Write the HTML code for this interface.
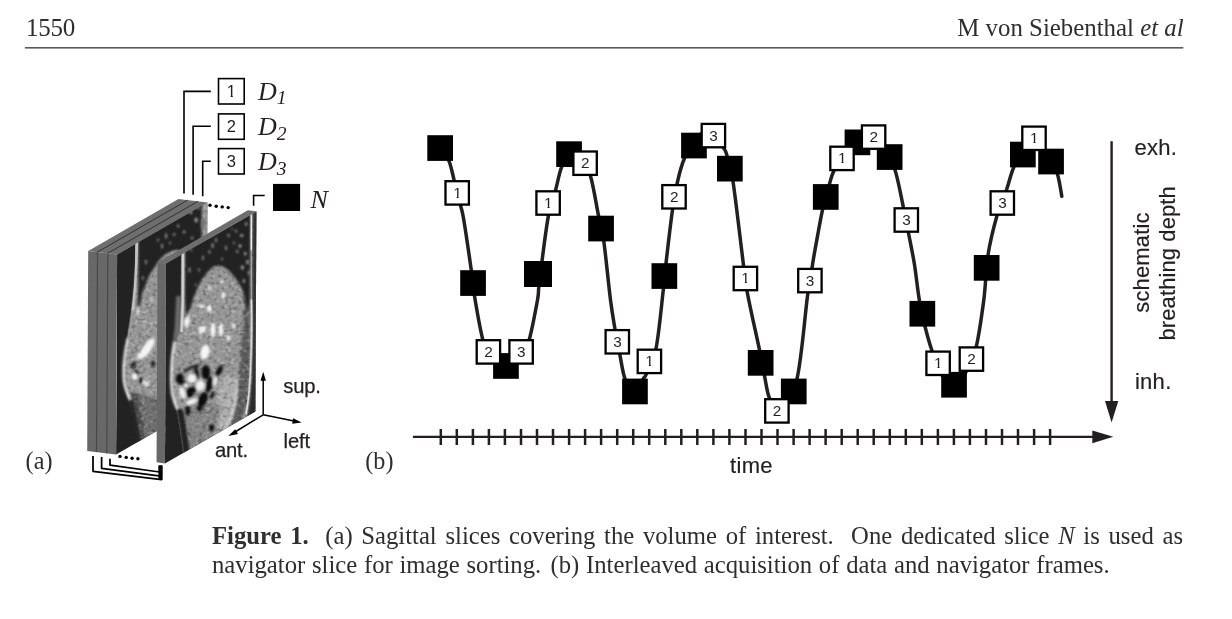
<!DOCTYPE html>
<html lang="en">
<head>
<meta charset="utf-8">
<title>Figure 1</title>
<style>
html,body{margin:0;padding:0;background:#fff;}
body{width:1232px;height:619px;position:relative;overflow:hidden;font-family:"Liberation Serif",serif;color:#2e2e2e;}
.hl{position:absolute;left:26.1px;top:12.7px;font-size:25px;line-height:30px;white-space:nowrap;letter-spacing:-0.3px;}
.hr{position:absolute;right:48.4px;top:12.7px;font-size:24.85px;line-height:30px;white-space:nowrap;text-align:right;}
.rule{position:absolute;left:25px;top:47.1px;width:1158.3px;height:1.35px;background:#505050;}
.cap{position:absolute;left:212px;top:520.6px;width:971px;font-size:24.7px;line-height:29.6px;text-align:justify;}
.cap .l1{display:block;text-align:justify;text-align-last:justify;white-space:nowrap;}
.cap .l2{display:block;white-space:nowrap;word-spacing:0.55px;}
.sp{display:inline-block;height:1px;}
svg{position:absolute;left:0;top:0;}
svg text{font-family:"Liberation Sans",sans-serif;fill:#231f20;}
.dg{font-size:15.3px;text-anchor:middle;}
.dga{font-size:16.5px;}
.sa{font-size:20.2px;letter-spacing:-0.15px;stroke:#231f20;stroke-width:0.25px;}
.sb{font-size:22px;letter-spacing:0.3px;stroke:#231f20;stroke-width:0.2px;}
.it{font-family:"Liberation Serif",serif;font-style:italic;font-size:26px;}
.lab{font-family:"Liberation Serif",serif;font-size:24.2px;fill:#2e2e2e;}
</style>
</head>
<body>
<div class="hl">1550</div>
<div class="hr">M von Siebenthal <i>et al</i></div>
<svg width="1232" height="619" viewBox="0 0 1232 619">
<rect x="24.9" y="47" width="1158.4" height="1.6" fill="#595959"/>
<defs>
<filter id="nz" x="0" y="0" width="100%" height="100%" color-interpolation-filters="sRGB">
<feTurbulence type="fractalNoise" baseFrequency="0.28" numOctaves="2" seed="7" result="t"/>
<feColorMatrix in="t" type="matrix" values="0 0 0 0 1  0 0 0 0 1  0 0 0 0 1  0.9 0 0 0 -0.45" result="wn"/>
<feColorMatrix in="t" type="matrix" values="0 0 0 0 0  0 0 0 0 0  0 0 0 0 0  0 0.9 0 0 -0.45" result="kn"/>
<feComposite in="wn" in2="SourceGraphic" operator="atop" result="s1"/>
<feComposite in="kn" in2="s1" operator="atop"/>
</filter>
<filter id="bl" x="-20%" y="-20%" width="140%" height="140%"><feGaussianBlur stdDeviation="0.9"/></filter>
<filter id="bl0" x="-20%" y="-20%" width="140%" height="140%"><feGaussianBlur stdDeviation="0.45"/></filter>
<filter id="bl2" x="-20%" y="-20%" width="140%" height="140%"><feGaussianBlur stdDeviation="1.4"/></filter>
<clipPath id="cN"><polygon points="166,263.4 256.2,211.4 256.2,411.4 166,463.4"/></clipPath>
<clipPath id="c3"><polygon points="117.1,254.5 207.1,202.6 207.1,402.6 117.1,454.5"/></clipPath>
<g id="mri">
<rect x="160" y="200" width="100" height="270" fill="#222"/>
<g filter="url(#nz)">
<path d="M181.3,205 L181.3,300 L179.5,330 L174,345 L172,360 L171.5,380 L173,395 L177,409 L180,425 L183,445 L186,468 L258,468 L258,205 Z" fill="#969696"/>
<g filter="url(#bl)">
<path d="M221,378 C226,372 234,374 237,380 C238.5,395 234,415 228,428 L215,432 C217,415 218,395 221,378 Z" fill="#acacac"/>
<path d="M186,405 L222,405 L216,436 L190,452 Z" fill="#848484"/>
<path d="M244.5,298 L250,302 L250.5,365 L248,400 L243,420 L231,426 C237,412 240,395 239.5,380 C240,360 244,330 244.5,298 Z" fill="#5c5c5c"/>
</g>
</g>
<g filter="url(#bl)">
<g fill="#111">
<ellipse cx="180.5" cy="378.8" rx="4.0" ry="5.6"/>
<ellipse cx="197.3" cy="373" rx="2.1" ry="6.5" transform="rotate(-8 197.3 373)"/>
<ellipse cx="206.4" cy="372.3" rx="4.4" ry="7.3"/>
<ellipse cx="209.9" cy="384.6" rx="3.5" ry="8.0" transform="rotate(12 209.9 384.6)"/>
<ellipse cx="219.8" cy="370.8" rx="2.8" ry="5.8" transform="rotate(30 219.8 370.8)"/>
<ellipse cx="190.7" cy="392.3" rx="4.0" ry="5.4" transform="rotate(15 190.7 392.3)"/>
<ellipse cx="203.5" cy="399.6" rx="4.5" ry="8.0" transform="rotate(22 203.5 399.6)"/>
<ellipse cx="188.5" cy="410.4" rx="2.4" ry="5.4"/>
<ellipse cx="212.5" cy="427.8" rx="2.4" ry="3.5"/>
<ellipse cx="200.2" cy="408.6" rx="2.8" ry="2.6"/>
<path d="M184,371 C190,366 196,364.5 200,364.5 L200,366.5 C195,367 190,369 185,373 Z"/>
<ellipse cx="185" cy="384" rx="2.2" ry="3"/>
<ellipse cx="195.5" cy="389" rx="2" ry="3.2"/>
<ellipse cx="213" cy="395" rx="1.8" ry="4" transform="rotate(20 213 395)"/>
</g>
<g fill="#f0f0f0">
<ellipse cx="192.5" cy="378.4" rx="4.5" ry="4.5"/>
<ellipse cx="200.9" cy="385.7" rx="4.5" ry="5.2" transform="rotate(15 200.9 385.7)"/>
<ellipse cx="183.2" cy="392.9" rx="2.9" ry="6.1" transform="rotate(-18 183.2 392.9)"/>
<ellipse cx="192.5" cy="401.7" rx="6.1" ry="2.6" transform="rotate(-22 192.5 401.7)"/>
<ellipse cx="215.7" cy="381.3" rx="1.9" ry="4.5" transform="rotate(10 215.7 381.3)"/>
<ellipse cx="186.4" cy="385.4" rx="2.2" ry="2.2"/>
</g>
<g fill="#f6f6f6">
<path d="M184,323 L188.8,311.5 L190.2,322 L187,328.5 Z"/>
<ellipse cx="209.6" cy="308.5" rx="2.5" ry="3.3"/>
<ellipse cx="201.8" cy="306.5" rx="2.3" ry="2.1"/>
<ellipse cx="223.6" cy="295.5" rx="1.8" ry="3.3"/>
<ellipse cx="213.3" cy="330" rx="2.5" ry="7.4"/>
<ellipse cx="221.4" cy="330" rx="2.2" ry="6.8"/>
<ellipse cx="201" cy="330" rx="1.8" ry="4.3"/>
<ellipse cx="204.5" cy="329" rx="1.8" ry="3.8"/>
<ellipse cx="205.5" cy="352" rx="4.4" ry="7.4" transform="rotate(12 205.5 352)"/>
<ellipse cx="229" cy="338" rx="1.8" ry="3.1"/>
<ellipse cx="234" cy="326" rx="1.5" ry="2.8" transform="rotate(-30 234 326)"/>
<ellipse cx="210" cy="288" rx="1.5" ry="1.9"/>
<ellipse cx="222" cy="282" rx="1.5" ry="1.9"/>
</g>
</g>
<g filter="url(#bl)">
<path d="M185.2,205 L185.2,300 L186.5,318 C188,313 189.5,310 190.9,307.6 C192.5,302 194,296 196.6,290.5 C199,284 202,279 205.6,274.7 C209,270 213,265.4 218.5,265.4 C224,265.4 229,270 232.8,274.7 C237,279.5 240.5,285 243,290.5 C245,296 246,303 247.4,311 L250.2,300 L250.2,205 Z" fill="#222"/>
<path d="M176.5,407 L180,425 L183,445 L186,468 L193,468 L189.8,445 L186.8,425 L184.2,410 Z" fill="#222"/>
<path d="M252.6,205 L257,205 L257,420 L247.5,420 L250.5,400 L252.2,380 L253,330 L252.6,300 Z" fill="#2c2c2c"/>
<path d="M176.5,296 L181.5,296 L180.5,331 L175,344 L173,344 L175,328 Z" fill="#6c6c6c"/>
<path d="M175,342 C171.5,355 171,383 173,395 C174.5,401 176.5,406 178,409" stroke="#f4f4f4" stroke-width="2.2" fill="none"/>
<path d="M237,379 C238.5,395 236,410 227,428" stroke="#e8e8e8" stroke-width="1.4" fill="none"/>
</g>
<g filter="url(#bl0)" fill="none" stroke="#f2f2f2" stroke-linecap="round">
<path d="M183,251 L183,300 L182,331" stroke-width="2.6" stroke="#d0d0d0"/>
<path d="M251.2,214 L251.3,250" stroke-width="1.5"/>
<path d="M251.3,250 L251.6,300" stroke-width="1.1" stroke="#aaa"/>
<path d="M251.6,300 C252.3,320 252,345 251.3,365 C250.8,385 249.5,400 247,414" stroke-width="1.5"/>
</g>
<g fill="#a4a4a4" filter="url(#bl)">
<ellipse cx="228.5" cy="235.5" rx="1" ry="1.8"/>
<ellipse cx="240" cy="246" rx="1.2" ry="1.8" fill="#c8c8c8"/>
<ellipse cx="247.5" cy="262" rx="1" ry="2.2" fill="#c8c8c8"/>
<ellipse cx="244" cy="281" rx="1" ry="2" fill="#bbb"/>
<ellipse cx="236" cy="231" rx="0.9" ry="1.5"/>
<ellipse cx="226" cy="248" rx="0.8" ry="2.4"/>
<ellipse cx="216" cy="240" rx="0.8" ry="2.6"/>
<ellipse cx="203" cy="258" rx="0.8" ry="2.4"/>
<ellipse cx="199" cy="270" rx="0.7" ry="2"/>
<ellipse cx="241.6" cy="235.5" rx="1.6" ry="1.6"/>
<ellipse cx="246" cy="224" rx="1.2" ry="1.8"/>
<ellipse cx="237.3" cy="251.5" rx="1" ry="1.4"/>
<ellipse cx="245.3" cy="253.7" rx="1.2" ry="2"/>
<ellipse cx="242.4" cy="267.5" rx="1.4" ry="2.2"/>
<ellipse cx="249" cy="273" rx="0.9" ry="2.4"/>
<ellipse cx="212.5" cy="245.7" rx="1" ry="2.6"/>
<ellipse cx="209.5" cy="252" rx="0.8" ry="2"/>
<ellipse cx="234" cy="243" rx="0.8" ry="1.2"/>
<ellipse cx="222" cy="259" rx="0.8" ry="1.2"/>
<ellipse cx="189.6" cy="270" rx="0.8" ry="3"/>
<ellipse cx="191" cy="250" rx="0.7" ry="1.4"/>
<ellipse cx="196" cy="285" rx="0.7" ry="1.4"/>
<ellipse cx="232" cy="229" rx="0.7" ry="1"/>
</g>
</g>
<g id="mri3">
<rect x="110" y="190" width="100" height="270" fill="#222"/>
<g filter="url(#nz)">
<path d="M135,200 L135,285 L131.5,311 L127.5,338 L123.8,365 L124.3,383 L129,399 L135,420 L140,445 L143,462 L210,462 L210,200 Z" fill="#969696"/>
<g filter="url(#bl)">
<ellipse cx="147" cy="383" rx="3" ry="4.5" fill="#d8d8d8"/>
<ellipse cx="134" cy="365.5" rx="2.6" ry="3.2" fill="#111"/>
<ellipse cx="137" cy="373" rx="1.8" ry="3" fill="#111"/>
<ellipse cx="141.5" cy="380" rx="1.6" ry="3.4" fill="#111"/>
<ellipse cx="153.5" cy="364" rx="2" ry="3.5" fill="#181818"/>
<ellipse cx="150" cy="410" rx="2.2" ry="7" fill="#3a3a3a" transform="rotate(-8 150 410)"/>
<path d="M130,392 L142,394 L160,400 L160,440 L141,450 Z" fill="#707070"/>
<path d="M131,392 L139,395 L146,440 L141,446 Z" fill="#505050"/>
<ellipse cx="145" cy="320" rx="1.2" ry="3" fill="#ddd"/>
<ellipse cx="152" cy="300" rx="1" ry="2.2" fill="#ddd"/>
</g>
</g>
<g filter="url(#bl)">
<path d="M138.4,195 L138.4,285 L137.6,311 L139.6,307.5 L142.2,293.3 L149.3,275.5 L157.3,263 C162,256 169,250.5 177,250 C186,250 195,257 199,268 L201.5,280 L201.5,195 Z" fill="#222"/>
<path d="M127.5,396 L133,420 L138,445 L141,462 L146,462 L142.5,445 L138,420 L133.5,399 Z" fill="#222"/>
<path d="M128.3,338 C125.5,350 123.6,362 124,375 C124.3,385 127,393 131,399.5" stroke="#f2f2f2" stroke-width="2.1" fill="none"/>
<path d="M136.6,311 L139.2,305 L139.4,312 L138,316 Z" fill="#eee"/>
<ellipse cx="147.5" cy="348.5" rx="4.2" ry="12" transform="rotate(34 147.5 348.5)" fill="#f4f4f4"/>
<ellipse cx="135.5" cy="376.5" rx="3" ry="3.6" fill="#f4f4f4"/>
<ellipse cx="140" cy="356" rx="2.4" ry="3" fill="#f0f0f0"/>
</g>
<g filter="url(#bl0)" fill="none" stroke-linecap="round">
<path d="M136.8,243 L136.4,262 L135.2,285 L133,311" stroke="#c4c4c4" stroke-width="2.5"/>
<path d="M133,311 L130.2,330 L128.6,340" stroke="#999" stroke-width="1.6"/>
</g>
<g fill="#a4a4a4" filter="url(#bl)">
<ellipse cx="190.5" cy="212" rx="1.4" ry="2.2"/>
<ellipse cx="196" cy="220" rx="1.6" ry="2.6"/>
<ellipse cx="203" cy="224" rx="2.2" ry="6" fill="#777"/>
<ellipse cx="198" cy="208" rx="1" ry="1.6"/>
<ellipse cx="178" cy="226" rx="1" ry="1.4"/>
<ellipse cx="184" cy="232" rx="1.2" ry="1.6"/>
<ellipse cx="174" cy="234.5" rx="1" ry="1.4"/>
<ellipse cx="166" cy="236" rx="0.9" ry="3"/>
<ellipse cx="162" cy="246" rx="0.9" ry="2.6"/>
<ellipse cx="158" cy="240" rx="0.8" ry="1.5"/>
<ellipse cx="170" cy="243" rx="0.8" ry="1.3"/>
<ellipse cx="146" cy="262" rx="0.8" ry="2.4"/>
<ellipse cx="143" cy="278" rx="0.8" ry="2"/>
<ellipse cx="192" cy="238" rx="1" ry="1.4"/>
</g>
</g>
</defs>
<g id="figa">
<g transform="matrix(1 0 -0.005 1 1.26 0)">
<!-- slab 1..3 -->
<polygon points="88.2,250.9 178.2,198.9 207.1,202.6 117.1,254.5" fill="#6e6e6e"/>
<g stroke="#2a2a2a" stroke-width="0.9" fill="none">
<line x1="97.4" y1="252.1" x2="187.4" y2="200.1"/>
<line x1="107.7" y1="253.3" x2="197.7" y2="201.3"/>
</g>
<g clip-path="url(#c3)"><use href="#mri3"/></g>
<polygon points="88.2,250.9 117.1,254.5 117.1,454.5 88.2,450.9" fill="#686868"/>
<g stroke="#484848" stroke-width="1.2">
<line x1="97.5" y1="252.1" x2="97.5" y2="452"/>
<line x1="107.8" y1="253.3" x2="107.8" y2="453.3"/>
</g>
<!-- slab N -->
<g clip-path="url(#cN)"><use href="#mri"/></g>
<polygon points="157.6,262.4 247.6,210.2 256.2,211.4 166,263.4" fill="#6e6e6e"/>
<polygon points="157.6,262.4 166,263.4 166,463.4 157.6,462.3" fill="#686868"/>
</g>
<!-- connectors top -->
<g stroke="#000" stroke-width="1.6" fill="none" stroke-linejoin="miter">
<polyline points="210.8,91.4 184,91.4 184,193.5"/>
<polyline points="210.8,126.2 193.1,126.2 193.1,194.8"/>
<polyline points="210.8,161.2 202.7,161.2 202.7,196.3"/>
<polyline points="264.7,195.5 253.6,195.5 253.6,205.8"/>
<rect x="218.5" y="78.6" width="25.7" height="25.4"/>
<rect x="218.5" y="113.9" width="25.7" height="25.4"/>
<rect x="218.5" y="148.6" width="25.7" height="25.4"/>
</g>
<rect x="273" y="183.9" width="27.1" height="27.1" fill="#000"/>
<g fill="#000">
<circle cx="210" cy="205.2" r="1.7"/><circle cx="216.2" cy="206.2" r="1.7"/><circle cx="222.2" cy="206.9" r="1.7"/><circle cx="228.2" cy="207.6" r="1.7"/>
<circle cx="120" cy="456.4" r="1.7"/><circle cx="126.2" cy="457.4" r="1.7"/><circle cx="132.1" cy="458.2" r="1.7"/><circle cx="137.9" cy="458.8" r="1.7"/>
</g>
<!-- bottom brackets -->
<g stroke="#000" stroke-width="1.75" fill="none" stroke-linejoin="round">
<polyline points="93,456.1 93,471.3 161.6,479.7 161.6,465.5"/>
<polyline points="101.6,457 101.6,468.3 160.6,476.1 160.6,465.5"/>
<polyline points="110,458.7 110,465.2 159.6,472 159.6,465.5"/>
</g>
<rect x="158.4" y="465.5" width="4" height="14" fill="#000"/>
<!-- axes -->
<g stroke="#000" stroke-width="1.5" fill="none">
<line x1="263.2" y1="414.8" x2="263.2" y2="379"/>
<line x1="263.2" y1="414.8" x2="294" y2="421"/>
<line x1="263.2" y1="414.8" x2="235" y2="432"/>
</g>
<polygon points="263.2,371.7 265.9,380.8 260.5,380.8" fill="#000"/>
<polygon points="301.6,422.6 292.2,423.8 293.2,418.2" fill="#000"/>
<polygon points="228.2,436 235.2,429.2 238,434" fill="#000"/>
<text x="231.4" y="97" class="dg dga">1</text>
<path d="M227.20 94.80h3.4v3.3h-3.4zM232.80 94.80h3.2v3.3h-3.2z" fill="#fff"/>
<text x="231.4" y="132.2" class="dg dga">2</text>
<text x="231.4" y="167.2" class="dg dga">3</text>
<text x="258" y="100" class="it">D<tspan font-size="19.5" dy="4.4">1</tspan></text>
<text x="258" y="135.3" class="it">D<tspan font-size="19.5" dy="4.4">2</tspan></text>
<text x="258" y="170.3" class="it">D<tspan font-size="19.5" dy="4.4">3</tspan></text>
<text x="310.5" y="208" class="it">N</text>
<text x="283.2" y="392.9" class="sa">sup.</text>
<text x="283.6" y="447.9" class="sa">left</text>
<text x="214.9" y="457.1" class="sa">ant.</text>
</g>

<g id="graph">
<path d="M440.2 148.1 C441.6 150.2 446.6 155.6 448.9 160.9 C451.2 166.2 452.2 172.6 454.1 180.1 C456.1 187.6 459.0 199.0 460.6 205.7 C462.2 212.3 462.0 209.2 463.8 220.0 C465.6 230.8 469.5 257.6 471.3 270.3 C473.1 283.0 472.6 284.5 474.5 296.0 C476.4 307.5 480.1 329.0 482.7 339.3 C485.3 349.6 486.1 353.1 490.0 358.0 C493.9 362.9 500.7 369.0 506.0 369.0 C511.3 369.0 518.1 362.9 522.0 358.0 C525.9 353.1 526.7 349.2 529.3 339.5 C531.9 329.8 535.9 308.8 537.5 300.0 C539.1 291.2 538.0 293.5 538.8 287.0 C539.5 280.5 540.4 272.9 542.0 261.0 C543.6 249.1 546.2 227.2 548.5 215.4 C550.8 203.6 553.4 198.2 555.6 190.1 C557.8 182.0 559.0 173.6 561.6 167.1 C564.2 160.6 567.8 152.7 571.0 151.0 C574.2 149.3 577.8 152.8 581.0 157.0 C584.2 161.2 587.6 166.2 590.5 176.0 C593.4 185.8 596.3 204.7 598.5 215.6 C600.7 226.5 601.8 227.2 603.8 241.3 C605.8 255.4 608.6 285.4 610.5 300.0 C612.4 314.6 613.5 320.1 615.0 329.2 C616.5 338.3 618.1 346.2 619.8 354.5 C621.5 362.8 622.6 372.2 625.0 378.8 C627.4 385.4 631.0 394.0 634.0 394.0 C637.0 394.0 641.2 382.1 643.3 378.8 C645.3 375.5 644.2 379.0 646.3 374.0 C648.4 369.0 653.1 362.8 656.0 348.6 C658.9 334.4 661.7 303.2 663.4 289.0 C665.1 274.8 664.5 276.5 666.0 263.3 C667.5 250.1 670.7 223.0 672.5 209.8 C674.3 196.6 675.0 192.6 677.0 184.0 C679.0 175.4 680.8 166.5 684.5 158.3 C688.2 150.1 694.2 138.9 699.0 135.0 C703.8 131.1 708.9 132.8 713.0 135.0 C717.1 137.2 721.5 144.8 723.8 148.3 C726.1 151.8 725.5 150.3 727.0 155.8 C728.5 161.3 730.4 164.6 733.0 181.5 C735.6 198.4 740.2 238.8 742.5 257.0 C744.8 275.2 744.2 275.5 747.0 291.0 C749.8 306.5 756.6 335.9 759.5 350.0 C762.4 364.1 762.8 367.8 764.5 375.8 C766.2 383.9 766.9 392.1 769.5 398.3 C772.1 404.5 775.4 416.2 780.0 413.0 C784.6 409.8 792.4 398.3 797.0 378.8 C801.6 359.3 805.0 314.5 807.5 296.0 C810.0 277.5 810.8 275.7 812.0 268.0 C813.2 260.3 813.2 259.7 815.0 250.0 C816.8 240.3 820.1 220.8 822.5 209.8 C824.9 198.8 827.6 190.5 829.5 184.0 C831.4 177.5 831.2 176.7 833.8 171.0 C836.4 165.3 839.8 155.7 845.0 150.0 C850.2 144.3 858.3 136.7 865.0 137.0 C871.7 137.3 880.0 146.5 885.0 152.0 C890.0 157.5 891.9 160.8 895.0 170.0 C898.1 179.2 901.2 197.1 903.4 207.5 C905.6 217.9 906.6 223.1 908.4 232.5 C910.2 241.9 912.5 252.6 914.4 264.0 C916.2 275.4 917.7 290.6 919.5 301.0 C921.3 311.4 922.9 318.2 925.0 326.5 C927.1 334.8 929.2 342.7 932.0 350.8 C934.8 358.9 938.2 368.8 942.0 375.0 C945.8 381.2 950.7 389.2 955.0 388.0 C959.3 386.8 964.5 374.9 968.0 368.0 C971.5 361.1 973.7 357.8 976.3 346.5 C978.9 335.2 981.8 315.2 983.8 300.0 C985.8 284.8 985.8 269.1 988.0 255.0 C990.2 240.9 994.0 226.2 997.0 215.5 C1000.0 204.8 1003.5 198.5 1006.3 190.5 C1009.1 182.5 1010.7 174.2 1013.8 167.3 C1016.9 160.4 1021.0 152.9 1025.0 149.0 C1029.0 145.1 1033.8 142.8 1038.0 144.0 C1042.2 145.2 1046.8 150.9 1050.0 156.0 C1053.2 161.1 1055.5 167.6 1057.5 174.3 C1059.5 181.0 1061.1 192.6 1061.8 196.3" fill="none" stroke="#231f20" stroke-width="3.5" stroke-linecap="round" stroke-linejoin="round"/>
<rect x="427.3" y="135.2" width="25.7" height="25.7" fill="#000"/>
<rect x="460.2" y="270.2" width="25.7" height="25.7" fill="#000"/>
<rect x="493.1" y="353.1" width="25.7" height="25.7" fill="#000"/>
<rect x="524" y="261" width="28" height="26" fill="#000"/>
<rect x="556.2" y="141.3" width="25.7" height="25.7" fill="#000"/>
<rect x="588.2" y="215.7" width="25.7" height="25.7" fill="#000"/>
<rect x="622.1" y="378.6" width="25.7" height="25.7" fill="#000"/>
<rect x="651.5" y="263.2" width="25.7" height="25.7" fill="#000"/>
<rect x="681.1" y="132.7" width="25.7" height="25.7" fill="#000"/>
<rect x="717.0" y="155.8" width="25.7" height="25.7" fill="#000"/>
<rect x="747.8" y="350.0" width="25.7" height="25.7" fill="#000"/>
<rect x="780.9" y="378.6" width="25.7" height="25.7" fill="#000"/>
<rect x="812.9" y="184.1" width="25.7" height="25.7" fill="#000"/>
<rect x="844.6" y="129.5" width="25.7" height="25.7" fill="#000"/>
<rect x="876.8" y="144.2" width="25.7" height="25.7" fill="#000"/>
<rect x="909.5" y="300.9" width="25.7" height="25.7" fill="#000"/>
<rect x="941.2" y="371.9" width="25.7" height="25.7" fill="#000"/>
<rect x="973.8" y="255.0" width="25.7" height="25.7" fill="#000"/>
<rect x="1010.0" y="141.7" width="25.7" height="25.7" fill="#000"/>
<rect x="1038.2" y="148.7" width="25.7" height="25.7" fill="#000"/>
<rect x="445.5" y="181.2" width="23.4" height="23.4" fill="#fff" stroke="#000" stroke-width="2.3"/>
<text x="457.4" y="197.8" class="dg">1</text>
<path d="M453.55 195.70h3.1v3.2h-3.1zM458.70 195.70h3v3.2h-3z" fill="#fff"/>
<rect x="476.7" y="340.2" width="23.4" height="23.4" fill="#fff" stroke="#000" stroke-width="2.3"/>
<text x="488.6" y="356.8" class="dg">2</text>
<rect x="509.4" y="340.2" width="23.4" height="23.4" fill="#fff" stroke="#000" stroke-width="2.3"/>
<text x="521.3" y="356.8" class="dg">3</text>
<rect x="536.4" y="191.3" width="23.4" height="23.4" fill="#fff" stroke="#000" stroke-width="2.3"/>
<text x="548.3" y="207.9" class="dg">1</text>
<path d="M544.45 205.80h3.1v3.2h-3.1zM549.60 205.80h3v3.2h-3z" fill="#fff"/>
<rect x="573.4" y="151.5" width="23.4" height="23.4" fill="#fff" stroke="#000" stroke-width="2.3"/>
<text x="585.3" y="168.1" class="dg">2</text>
<rect x="605.6" y="330.1" width="23.4" height="23.4" fill="#fff" stroke="#000" stroke-width="2.3"/>
<text x="617.5" y="346.7" class="dg">3</text>
<rect x="637.7" y="349.7" width="23.4" height="23.4" fill="#fff" stroke="#000" stroke-width="2.3"/>
<text x="649.6" y="366.3" class="dg">1</text>
<path d="M645.75 364.20h3.1v3.2h-3.1zM650.90 364.20h3v3.2h-3z" fill="#fff"/>
<rect x="662.3" y="185.1" width="23.4" height="23.4" fill="#fff" stroke="#000" stroke-width="2.3"/>
<text x="674.2" y="201.7" class="dg">2</text>
<rect x="701.7" y="123.9" width="23.4" height="23.4" fill="#fff" stroke="#000" stroke-width="2.3"/>
<text x="713.6" y="140.5" class="dg">3</text>
<rect x="733.7" y="266.8" width="23.4" height="23.4" fill="#fff" stroke="#000" stroke-width="2.3"/>
<text x="745.6" y="283.4" class="dg">1</text>
<path d="M741.75 281.30h3.1v3.2h-3.1zM746.90 281.30h3v3.2h-3z" fill="#fff"/>
<rect x="765.2" y="399.2" width="23.4" height="23.4" fill="#fff" stroke="#000" stroke-width="2.3"/>
<text x="777.1" y="415.8" class="dg">2</text>
<rect x="798.2" y="268.9" width="23.4" height="23.4" fill="#fff" stroke="#000" stroke-width="2.3"/>
<text x="810.1" y="285.5" class="dg">3</text>
<rect x="830.3" y="146.7" width="23.4" height="23.4" fill="#fff" stroke="#000" stroke-width="2.3"/>
<text x="842.2" y="163.3" class="dg">1</text>
<path d="M838.35 161.20h3.1v3.2h-3.1zM843.50 161.20h3v3.2h-3z" fill="#fff"/>
<rect x="861.9" y="125.4" width="23.4" height="23.4" fill="#fff" stroke="#000" stroke-width="2.3"/>
<text x="873.8" y="142.0" class="dg">2</text>
<rect x="894.6" y="208.3" width="23.4" height="23.4" fill="#fff" stroke="#000" stroke-width="2.3"/>
<text x="906.5" y="224.9" class="dg">3</text>
<rect x="926.4" y="351.6" width="23.4" height="23.4" fill="#fff" stroke="#000" stroke-width="2.3"/>
<text x="938.3" y="368.2" class="dg">1</text>
<path d="M934.45 366.10h3.1v3.2h-3.1zM939.60 366.10h3v3.2h-3z" fill="#fff"/>
<rect x="959.7" y="347.4" width="23.4" height="23.4" fill="#fff" stroke="#000" stroke-width="2.3"/>
<text x="971.6" y="364.0" class="dg">2</text>
<rect x="990.6" y="191.3" width="23.4" height="23.4" fill="#fff" stroke="#000" stroke-width="2.3"/>
<text x="1002.5" y="207.9" class="dg">3</text>
<rect x="1022.3" y="126.6" width="23.4" height="23.4" fill="#fff" stroke="#000" stroke-width="2.3"/>
<text x="1034.2" y="143.2" class="dg">1</text>
<path d="M1030.35 141.10h3.1v3.2h-3.1zM1035.50 141.10h3v3.2h-3z" fill="#fff"/>
<line x1="412.9" y1="436.8" x2="1095" y2="436.8" stroke="#231f20" stroke-width="2.3"/>
<polygon points="1092.3,430.4 1113.3,436.8 1092.3,443.3" fill="#231f20"/>
<line x1="440.8" y1="429" x2="440.8" y2="445" stroke="#231f20" stroke-width="2.5"/>
<line x1="456.8" y1="429" x2="456.8" y2="445" stroke="#231f20" stroke-width="2.5"/>
<line x1="472.9" y1="429" x2="472.9" y2="445" stroke="#231f20" stroke-width="2.5"/>
<line x1="488.9" y1="429" x2="488.9" y2="445" stroke="#231f20" stroke-width="2.5"/>
<line x1="504.9" y1="429" x2="504.9" y2="445" stroke="#231f20" stroke-width="2.5"/>
<line x1="521.0" y1="429" x2="521.0" y2="445" stroke="#231f20" stroke-width="2.5"/>
<line x1="537.0" y1="429" x2="537.0" y2="445" stroke="#231f20" stroke-width="2.5"/>
<line x1="553.0" y1="429" x2="553.0" y2="445" stroke="#231f20" stroke-width="2.5"/>
<line x1="569.1" y1="429" x2="569.1" y2="445" stroke="#231f20" stroke-width="2.5"/>
<line x1="585.1" y1="429" x2="585.1" y2="445" stroke="#231f20" stroke-width="2.5"/>
<line x1="601.1" y1="429" x2="601.1" y2="445" stroke="#231f20" stroke-width="2.5"/>
<line x1="617.2" y1="429" x2="617.2" y2="445" stroke="#231f20" stroke-width="2.5"/>
<line x1="633.2" y1="429" x2="633.2" y2="445" stroke="#231f20" stroke-width="2.5"/>
<line x1="649.2" y1="429" x2="649.2" y2="445" stroke="#231f20" stroke-width="2.5"/>
<line x1="665.3" y1="429" x2="665.3" y2="445" stroke="#231f20" stroke-width="2.5"/>
<line x1="681.3" y1="429" x2="681.3" y2="445" stroke="#231f20" stroke-width="2.5"/>
<line x1="697.3" y1="429" x2="697.3" y2="445" stroke="#231f20" stroke-width="2.5"/>
<line x1="713.4" y1="429" x2="713.4" y2="445" stroke="#231f20" stroke-width="2.5"/>
<line x1="729.4" y1="429" x2="729.4" y2="445" stroke="#231f20" stroke-width="2.5"/>
<line x1="745.5" y1="429" x2="745.5" y2="445" stroke="#231f20" stroke-width="2.5"/>
<line x1="761.5" y1="429" x2="761.5" y2="445" stroke="#231f20" stroke-width="2.5"/>
<line x1="777.5" y1="429" x2="777.5" y2="445" stroke="#231f20" stroke-width="2.5"/>
<line x1="793.6" y1="429" x2="793.6" y2="445" stroke="#231f20" stroke-width="2.5"/>
<line x1="809.6" y1="429" x2="809.6" y2="445" stroke="#231f20" stroke-width="2.5"/>
<line x1="825.6" y1="429" x2="825.6" y2="445" stroke="#231f20" stroke-width="2.5"/>
<line x1="841.7" y1="429" x2="841.7" y2="445" stroke="#231f20" stroke-width="2.5"/>
<line x1="857.7" y1="429" x2="857.7" y2="445" stroke="#231f20" stroke-width="2.5"/>
<line x1="873.7" y1="429" x2="873.7" y2="445" stroke="#231f20" stroke-width="2.5"/>
<line x1="889.8" y1="429" x2="889.8" y2="445" stroke="#231f20" stroke-width="2.5"/>
<line x1="905.8" y1="429" x2="905.8" y2="445" stroke="#231f20" stroke-width="2.5"/>
<line x1="921.8" y1="429" x2="921.8" y2="445" stroke="#231f20" stroke-width="2.5"/>
<line x1="937.9" y1="429" x2="937.9" y2="445" stroke="#231f20" stroke-width="2.5"/>
<line x1="953.9" y1="429" x2="953.9" y2="445" stroke="#231f20" stroke-width="2.5"/>
<line x1="969.9" y1="429" x2="969.9" y2="445" stroke="#231f20" stroke-width="2.5"/>
<line x1="986.0" y1="429" x2="986.0" y2="445" stroke="#231f20" stroke-width="2.5"/>
<line x1="1002.0" y1="429" x2="1002.0" y2="445" stroke="#231f20" stroke-width="2.5"/>
<line x1="1018.0" y1="429" x2="1018.0" y2="445" stroke="#231f20" stroke-width="2.5"/>
<line x1="1034.1" y1="429" x2="1034.1" y2="445" stroke="#231f20" stroke-width="2.5"/>
<line x1="1050.1" y1="429" x2="1050.1" y2="445" stroke="#231f20" stroke-width="2.5"/>
<line x1="1111.6" y1="141.3" x2="1111.6" y2="404" stroke="#231f20" stroke-width="2.4"/>
<polygon points="1105,401.1 1118.3,401.1 1111.6,422.6" fill="#231f20"/>
</g>
<text x="1134.4" y="154.9" class="sb">exh.</text>
<text x="1134.9" y="388.9" class="sb">inh.</text>
<text class="sb" style="letter-spacing:0.15px" text-anchor="middle" transform="translate(1148.9,262.6) rotate(-90)">schematic</text>
<text class="sb" style="letter-spacing:0.1px" text-anchor="middle" transform="translate(1174.5,263.3) rotate(-90)">breathing depth</text>
<text x="751.5" y="473.1" class="sb" text-anchor="middle">time</text>
<text x="25.6" y="469.4" class="lab">(a)</text>
<text x="365.3" y="469.4" class="lab">(b)</text>
</svg>
<div class="cap"><span class="l1"><b>Figure 1.</b><span class="sp" style="width:7.8px"></span> (a) Sagittal slices covering the volume of interest.<span class="sp" style="width:8.6px"></span> One dedicated slice <i>N</i> is used as</span><span class="l2">navigator slice for image sorting.<span class="sp" style="width:2.6px"></span> (b) Interleaved acquisition of data and navigator frames.</span></div>
</body>
</html>
